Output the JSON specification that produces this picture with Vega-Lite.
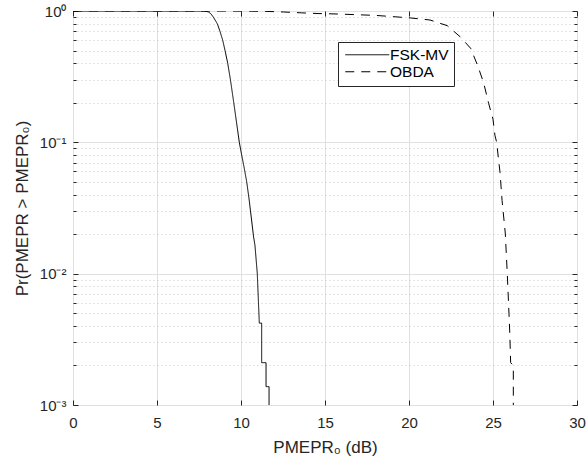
{
  "$schema": "https://vega.github.io/schema/vega-lite/v6.json",
  "width": 504,
  "height": 394,
  "autosize": {"type": "none"},
  "padding": {"left": 73, "top": 11, "right": 10, "bottom": 59},
  "background": "white",
  "config": {
    "view": {"stroke": "#262626", "strokeWidth": 1},
    "font": "Liberation Sans",
    "axis": {"labelFont": "Liberation Sans", "titleFont": "Liberation Sans", "labelColor": "#262626", "titleColor": "#262626", "tickColor": "#262626", "domain": false, "titleFontWeight": "normal", "labelFlush": false, "labelOverlap": false, "labelBound": false}
  },
  "data": {
    "values": [
      {"series": "FSK-MV", "i": 0, "x": 0, "p": 1},
      {"series": "FSK-MV", "i": 1, "x": 7.6, "p": 1},
      {"series": "FSK-MV", "i": 2, "x": 7.86, "p": 0.998},
      {"series": "FSK-MV", "i": 3, "x": 8.05, "p": 0.985},
      {"series": "FSK-MV", "i": 4, "x": 8.2, "p": 0.955},
      {"series": "FSK-MV", "i": 5, "x": 8.35, "p": 0.9},
      {"series": "FSK-MV", "i": 6, "x": 8.59, "p": 0.8},
      {"series": "FSK-MV", "i": 7, "x": 8.75, "p": 0.7},
      {"series": "FSK-MV", "i": 8, "x": 8.91, "p": 0.6},
      {"series": "FSK-MV", "i": 9, "x": 9.05, "p": 0.5},
      {"series": "FSK-MV", "i": 10, "x": 9.21, "p": 0.4},
      {"series": "FSK-MV", "i": 11, "x": 9.37, "p": 0.3},
      {"series": "FSK-MV", "i": 12, "x": 9.57, "p": 0.2},
      {"series": "FSK-MV", "i": 13, "x": 9.74, "p": 0.14},
      {"series": "FSK-MV", "i": 14, "x": 9.9, "p": 0.1},
      {"series": "FSK-MV", "i": 15, "x": 10.04, "p": 0.08},
      {"series": "FSK-MV", "i": 16, "x": 10.18, "p": 0.065},
      {"series": "FSK-MV", "i": 17, "x": 10.34, "p": 0.05},
      {"series": "FSK-MV", "i": 18, "x": 10.48, "p": 0.037},
      {"series": "FSK-MV", "i": 19, "x": 10.63, "p": 0.0256},
      {"series": "FSK-MV", "i": 20, "x": 10.75, "p": 0.019},
      {"series": "FSK-MV", "i": 21, "x": 10.83, "p": 0.0165},
      {"series": "FSK-MV", "i": 22, "x": 10.97, "p": 0.01},
      {"series": "FSK-MV", "i": 23, "x": 11.04, "p": 0.006},
      {"series": "FSK-MV", "i": 24, "x": 11.08, "p": 0.0045},
      {"series": "FSK-MV", "i": 25, "x": 11.09, "p": 0.0042},
      {"series": "FSK-MV", "i": 26, "x": 11.23, "p": 0.0042},
      {"series": "FSK-MV", "i": 27, "x": 11.23, "p": 0.0021},
      {"series": "FSK-MV", "i": 28, "x": 11.49, "p": 0.0021},
      {"series": "FSK-MV", "i": 29, "x": 11.49, "p": 0.00138},
      {"series": "FSK-MV", "i": 30, "x": 11.67, "p": 0.00138},
      {"series": "FSK-MV", "i": 31, "x": 11.67, "p": 0.001},
      {"series": "OBDA", "i": 0, "x": 0, "p": 1},
      {"series": "OBDA", "i": 1, "x": 9, "p": 0.999},
      {"series": "OBDA", "i": 2, "x": 10.5, "p": 0.997},
      {"series": "OBDA", "i": 3, "x": 11.43, "p": 0.994},
      {"series": "OBDA", "i": 4, "x": 12.52, "p": 0.983},
      {"series": "OBDA", "i": 5, "x": 13.61, "p": 0.968},
      {"series": "OBDA", "i": 6, "x": 14.64, "p": 0.956},
      {"series": "OBDA", "i": 7, "x": 15.73, "p": 0.949},
      {"series": "OBDA", "i": 8, "x": 16.89, "p": 0.937},
      {"series": "OBDA", "i": 9, "x": 17.98, "p": 0.926},
      {"series": "OBDA", "i": 10, "x": 19.1, "p": 0.905},
      {"series": "OBDA", "i": 11, "x": 20.1, "p": 0.885},
      {"series": "OBDA", "i": 12, "x": 21.25, "p": 0.854},
      {"series": "OBDA", "i": 13, "x": 22.28, "p": 0.773},
      {"series": "OBDA", "i": 14, "x": 23.04, "p": 0.637},
      {"series": "OBDA", "i": 15, "x": 23.67, "p": 0.52},
      {"series": "OBDA", "i": 16, "x": 24.1, "p": 0.38},
      {"series": "OBDA", "i": 17, "x": 24.45, "p": 0.282},
      {"series": "OBDA", "i": 18, "x": 24.74, "p": 0.198},
      {"series": "OBDA", "i": 19, "x": 25.0, "p": 0.15},
      {"series": "OBDA", "i": 20, "x": 25.12, "p": 0.112},
      {"series": "OBDA", "i": 21, "x": 25.22, "p": 0.1},
      {"series": "OBDA", "i": 22, "x": 25.3, "p": 0.08},
      {"series": "OBDA", "i": 23, "x": 25.42, "p": 0.0587},
      {"series": "OBDA", "i": 24, "x": 25.54, "p": 0.036},
      {"series": "OBDA", "i": 25, "x": 25.73, "p": 0.0204},
      {"series": "OBDA", "i": 26, "x": 25.85, "p": 0.01},
      {"series": "OBDA", "i": 27, "x": 25.95, "p": 0.005},
      {"series": "OBDA", "i": 28, "x": 26.0, "p": 0.0035},
      {"series": "OBDA", "i": 29, "x": 26.05, "p": 0.0021},
      {"series": "OBDA", "i": 30, "x": 26.21, "p": 0.002},
      {"series": "OBDA", "i": 31, "x": 26.21, "p": 0.001}
    ]
  },
  "layer": [
    {
      "mark": {"type": "line", "color": "black", "strokeWidth": 1, "clip": true},
      "encoding": {
        "x": {"field": "x", "type": "quantitative", "scale": {"domain": [0, 30], "nice": false, "zero": false},
          "axis": {"orient": "bottom", "values": [0, 5, 10, 15, 20, 25, 30], "tickSize": -5, "grid": true, "gridColor": "#e0e0e0", "labelFontSize": 15, "labelPadding": 15, "title": "PMEPR₀ (dB)", "titleFontSize": 17, "titlePadding": 9}},
        "y": {"field": "p", "type": "quantitative", "scale": {"type": "log", "domain": [0.001, 1], "nice": false},
          "axis": {"orient": "left",
            "values": [0.001, 0.002, 0.003, 0.004, 0.005, 0.006, 0.007, 0.008, 0.009, 0.01, 0.02, 0.03, 0.04, 0.05, 0.06, 0.07, 0.08, 0.09, 0.1, 0.2, 0.3, 0.4, 0.5, 0.6, 0.7, 0.8, 0.9, 1],
            "labelExpr": "abs(datum.value-1)<1e-9 ? '10⁰' : (abs(datum.value-0.1)<1e-9 ? '10⁻¹' : (abs(datum.value-0.01)<1e-9 ? '10⁻²' : (abs(datum.value-0.001)<1e-9 ? '10⁻³' : '')))",
            "tickSize": {"condition": {"test": "abs(log(datum.value)/LN10 - round(log(datum.value)/LN10)) < 1e-6", "value": -5}, "value": -3},
            "grid": true,
            "gridColor": {"condition": {"test": "abs(log(datum.value)/LN10 - round(log(datum.value)/LN10)) < 1e-6", "value": "#e0e0e0"}, "value": "#c8c8c8"},
            "gridDash": {"condition": {"test": "abs(log(datum.value)/LN10 - round(log(datum.value)/LN10)) < 1e-6", "value": []}, "value": [1, 3]},
            "labelFontSize": 15, "labelPadding": 12,
            "title": "Pr(PMEPR > PMEPR₀)", "titleFontSize": 17, "titlePadding": 8}},
        "strokeDash": {"field": "series", "type": "nominal", "scale": {"domain": ["FSK-MV", "OBDA"], "range": [[1, 0], [9, 7]]},
          "legend": {"orient": "none", "legendX": 265, "legendY": 31, "title": null, "strokeColor": "#262626", "fillColor": "white", "padding": 5, "symbolType": "M-4,0H4", "symbolSize": 121, "symbolOffset": 16.5, "symbolStrokeWidth": 1, "symbolStrokeColor": "black", "symbolFillColor": "transparent", "labelFontSize": 15.5, "labelFont": "Liberation Sans", "labelColor": "black", "labelOffset": 15, "rowPadding": 0}},
        "order": {"field": "i", "type": "quantitative"}
      }
    },
    {
      "mark": {"type": "line", "opacity": 0},
      "encoding": {
        "x": {"field": "x", "type": "quantitative", "scale": {"domain": [0, 30], "nice": false, "zero": false},
          "axis": {"orient": "top", "values": [0, 5, 10, 15, 20, 25, 30], "tickSize": -5, "labels": false, "grid": false, "title": null}},
        "y": {"field": "p", "type": "quantitative", "scale": {"type": "log", "domain": [0.001, 1], "nice": false},
          "axis": {"orient": "right",
            "values": [0.001, 0.002, 0.003, 0.004, 0.005, 0.006, 0.007, 0.008, 0.009, 0.01, 0.02, 0.03, 0.04, 0.05, 0.06, 0.07, 0.08, 0.09, 0.1, 0.2, 0.3, 0.4, 0.5, 0.6, 0.7, 0.8, 0.9, 1],
            "tickSize": {"condition": {"test": "abs(log(datum.value)/LN10 - round(log(datum.value)/LN10)) < 1e-6", "value": -5}, "value": -3},
            "labels": false, "grid": false, "title": null}},
        "detail": {"field": "series", "type": "nominal"},
        "order": {"field": "i", "type": "quantitative"}
      }
    }
  ],
  "resolve": {"axis": {"x": "independent", "y": "independent"}}
}
